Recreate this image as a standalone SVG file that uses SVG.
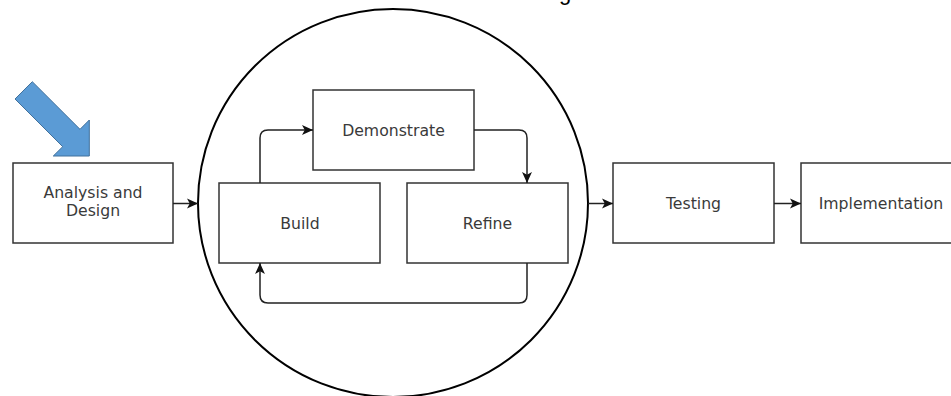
<svg xmlns="http://www.w3.org/2000/svg" width="951" height="396" viewBox="0 0 951 396">
<defs>
<style>
.box{fill:#fff;stroke:#333;stroke-width:1.5}
.lbl{font-family:"DejaVu Sans",Verdana,sans-serif;font-size:15.7px;fill:#3a3a3a;text-anchor:middle}
.con{fill:none;stroke:#222;stroke-width:1.5}
</style>
<marker id="ah" viewBox="0 0 10 10" refX="10" refY="5" markerWidth="11" markerHeight="11" markerUnits="userSpaceOnUse" orient="auto">
<path d="M0,0.5 L10,5 L0,9.5 L2.5,5 Z" fill="#111"/>
</marker>
</defs>
<rect width="951" height="396" fill="#fff"/>
<text x="565" y="0" font-family="Liberation Sans,Arial,sans-serif" font-size="22" fill="#000" text-anchor="middle">g</text>
<g id="pointer">
<polygon points="15,99 32.3,81.7 80,129.3 89.3,120 89.3,156 53.3,156 62.7,146.7" fill="#5B9BD5" stroke="#41719C" stroke-width="1"/>
</g>
<g id="cycle">
<ellipse cx="393" cy="203" rx="195" ry="194" fill="none" stroke="#000" stroke-width="2"/>
</g>
<g id="analysis">
<rect class="box" x="13" y="163" width="160" height="80"/>
<text class="lbl" x="93" y="197.5">Analysis and</text>
<text class="lbl" x="93" y="215.5">Design</text>
</g>
<g id="demonstrate">
<rect class="box" x="313" y="90" width="161" height="80"/>
<text class="lbl" x="393.5" y="135.5">Demonstrate</text>
</g>
<g id="build">
<rect class="box" x="219" y="183" width="161" height="80"/>
<text class="lbl" x="300" y="228.5">Build</text>
</g>
<g id="refine">
<rect class="box" x="407" y="183" width="161" height="80"/>
<text class="lbl" x="487.5" y="228.5">Refine</text>
</g>
<g id="testing">
<rect class="box" x="613" y="163" width="161" height="80"/>
<text class="lbl" x="693.5" y="208.5">Testing</text>
</g>
<g id="implementation">
<rect class="box" x="801" y="163" width="160" height="80"/>
<text class="lbl" x="881" y="208.5">Implementation</text>
</g>
<g id="connectors">
<path class="con" d="M260,183 V138 Q260,130 268,130 H313" marker-end="url(#ah)"/>
<path class="con" d="M474,130 H519 Q527,130 527,138 V183" marker-end="url(#ah)"/>
<path class="con" d="M527,263 V295 Q527,303 519,303 H268 Q260,303 260,295 V263" marker-end="url(#ah)"/>
<path class="con" d="M173,203.5 H198" marker-end="url(#ah)"/>
<path class="con" d="M588,203.5 H613" marker-end="url(#ah)"/>
<path class="con" d="M774,203.5 H801" marker-end="url(#ah)"/>
</g>
</svg>
